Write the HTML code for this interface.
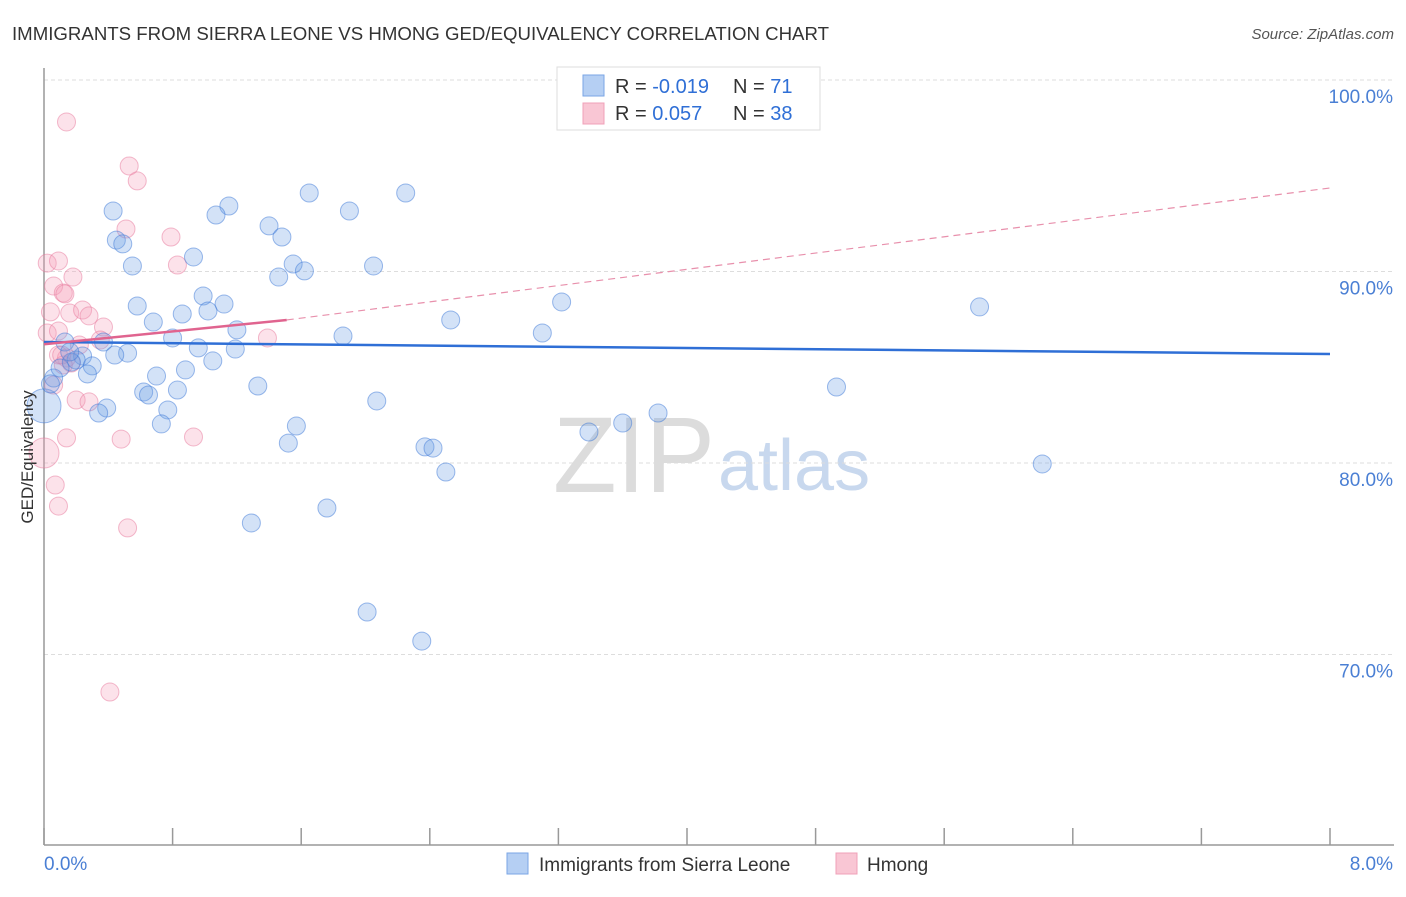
<!DOCTYPE html>
<html><head><meta charset="utf-8"><style>
body{margin:0;background:#fff;font-family:"Liberation Sans",sans-serif;}
svg text{font-family:"Liberation Sans",sans-serif;}
</style></head><body>
<svg id="chart" width="1406" height="892" viewBox="0 0 1406 892" xmlns="http://www.w3.org/2000/svg">
<text x="12" y="40" font-size="18" fill="#333" textLength="817" lengthAdjust="spacingAndGlyphs">IMMIGRANTS FROM SIERRA LEONE VS HMONG GED/EQUIVALENCY CORRELATION CHART</text>
<text x="1394" y="39" font-size="15" fill="#555" font-style="italic" text-anchor="end">Source: ZipAtlas.com</text>
<text x="553" y="492" font-size="108" font-family="Liberation Serif" fill="#dcdcdc" textLength="162" lengthAdjust="spacingAndGlyphs">ZIP</text>
<text x="718" y="490" font-size="72" fill="#c8d8ee">atlas</text>
<g id="grid"></g>
<g id="axes"></g>
<g id="points"></g>
<g id="trends"></g>
<text transform="translate(33,457) rotate(-90)" font-size="17" fill="#333" text-anchor="middle">GED/Equivalency</text>
<text x="44" y="870" font-size="19" fill="#4a7fd4">0.0%</text>
<text x="1393" y="870" font-size="19" fill="#4a7fd4" text-anchor="end">8.0%</text>
<g>
<rect x="557" y="67" width="263" height="63" fill="#fff" stroke="#ddd"/>
<rect x="583" y="75" width="21" height="21" fill="#b5cff3" stroke="#7aa6e6"/>
<rect x="583" y="103" width="21" height="21" fill="#f9c6d4" stroke="#f0a0b8"/>
<text x="615" y="93" font-size="20" fill="#333">R = <tspan fill="#2f6fd6">-0.019</tspan></text>
<text x="733" y="93" font-size="20" fill="#333">N = <tspan fill="#2f6fd6">71</tspan></text>
<text x="615" y="120" font-size="20" fill="#333">R = <tspan fill="#2f6fd6"> 0.057</tspan></text>
<text x="733" y="120" font-size="20" fill="#333">N = <tspan fill="#2f6fd6">38</tspan></text>
</g>
<g>
<rect x="507" y="853" width="21" height="21" fill="#b5cff3" stroke="#7aa6e6"/>
<text x="539" y="871" font-size="19" fill="#333">Immigrants from Sierra Leone</text></g>
<g>
<rect x="836" y="853" width="21" height="21" fill="#f9c6d4" stroke="#f0a0b8"/>
<text x="867" y="871" font-size="19" fill="#333">Hmong</text></g>
</svg>
<script>
const blueX=[3.35,4.32,0.43,1.15,1.07,1.65,2.25,1.90,1.40,1.48,0.45,0.49,0.93,0.55,1.55,1.62,1.46,2.05,0.58,0.99,1.12,1.02,0.86,0.68,3.22,2.53,5.82,1.20,0.80,1.86,3.10,0.37,0.13,0.52,0.96,1.19,1.05,0.24,0.20,0.17,0.30,0.27,0.88,0.70,0.06,0.00,1.33,0.83,0.62,0.65,4.93,0.39,0.34,2.07,0.77,0.73,1.57,1.52,3.82,3.60,3.39,2.37,2.42,2.50,6.21,1.29,1.76,2.01,2.35,0.10,0.04,0.16,0.44];
const blueY=[100.0,100.0,93.16,93.42,92.95,94.10,94.10,93.16,92.38,91.80,91.64,91.44,90.76,90.29,90.39,90.03,89.71,90.29,88.20,88.72,88.30,87.94,87.78,87.36,88.41,87.47,88.15,86.95,86.53,86.63,86.79,86.32,86.32,85.74,86.01,85.95,85.33,85.59,85.38,85.27,85.07,84.65,84.86,84.54,84.44,82.98,84.02,83.81,83.71,83.55,83.97,82.87,82.61,83.24,82.77,82.04,81.93,81.04,82.61,82.09,81.62,80.84,80.78,79.53,79.95,76.87,77.65,72.22,70.70,84.96,84.13,85.80,85.64];
const pinkX=[0.14,0.53,0.58,0.51,0.79,0.83,0.02,0.09,0.18,0.06,0.12,0.13,0.04,0.16,0.24,0.28,0.37,0.02,0.09,1.39,0.22,0.09,0.14,0.17,0.12,0.06,0.20,0.28,0.00,0.14,0.48,0.93,0.07,0.09,0.52,0.41,0.11,0.35];
const pinkY=[97.81,95.51,94.73,92.22,91.80,90.34,90.44,90.55,89.71,89.24,88.88,88.83,87.89,87.83,87.99,87.68,87.10,86.79,86.89,86.53,86.16,85.64,85.48,85.22,85.12,84.07,83.29,83.19,80.52,81.31,81.25,81.36,78.85,77.75,76.61,68.04,85.64,86.42];
const blueTrendX=[0,8];
const blueTrendY=[86.32,85.69];
const pinkTrendX=[0,1.51,8];
const pinkTrendY=[86.2,87.47,94.36];
const yTicks=[100,90,80,70];
const xTicks=[0,0.8,1.6,2.4,3.2,4.0,4.8,5.6,6.4,7.2,8.0];

const NS="http://www.w3.org/2000/svg";
const X=p=>44+p*160.75;
const Y=v=>80+(100-v)*19.15;
function mk(tag,attrs,parent){const e=document.createElementNS(NS,tag);for(const k in attrs)e.setAttribute(k,attrs[k]);parent.appendChild(e);return e;}
const grid=document.getElementById('grid'),axes=document.getElementById('axes'),trends=document.getElementById('trends'),pts=document.getElementById('points');
yTicks.forEach(v=>{
  const l=mk('line',{x1:44,x2:1392,y1:Y(v),y2:Y(v),stroke:'#ddd','stroke-dasharray':'4 3'},grid);
  
  
  const t=mk('text',{x:1393,y:Y(v)+23,'font-size':19,fill:'#4a7fd4','text-anchor':'end'},grid);
  t.textContent=v.toFixed(1)+'%';
  
  
});
const ya=mk('line',{x1:44,x2:44,y1:68,y2:845,stroke:'#999','stroke-width':1.5},axes);


const xa=mk('line',{x1:44,x2:1394,y1:845,y2:845,stroke:'#999','stroke-width':1.5},axes);


xTicks.forEach(p=>{
  const t=mk('line',{x1:X(p),x2:X(p),y1:828,y2:845,stroke:'#999','stroke-width':1.5},axes);
  
  
});
function dot(x,y,r,fill,stroke,name){
  const c=mk('circle',{cx:X(x),cy:Y(y),r:r,fill:fill,stroke:stroke,'stroke-width':1},pts);
  
  
}
pinkX.forEach((x,i)=>dot(x,pinkY[i],(i==28?15:9),'rgba(244,160,185,0.3)','rgba(232,120,155,0.5)','hmong-point'));
blueX.forEach((x,i)=>dot(x,blueY[i],(i==45?17:9),'rgba(110,160,230,0.3)','rgba(60,120,215,0.5)','sierra-leone-point'));
const bt=mk('line',{x1:X(blueTrendX[0]),y1:Y(blueTrendY[0]),x2:X(blueTrendX[1]),y2:Y(blueTrendY[1]),stroke:'#2f6fd6','stroke-width':2.5},trends);


const ps=mk('line',{x1:X(pinkTrendX[0]),y1:Y(pinkTrendY[0]),x2:X(pinkTrendX[1]),y2:Y(pinkTrendY[1]),stroke:'#e0648f','stroke-width':2.5},trends);


const pd=mk('line',{x1:X(pinkTrendX[1]),y1:Y(pinkTrendY[1]),x2:X(pinkTrendX[2]),y2:Y(pinkTrendY[2]),stroke:'#e890ac','stroke-width':1.2,'stroke-dasharray':'7 5'},trends);


</script>
</body></html>
